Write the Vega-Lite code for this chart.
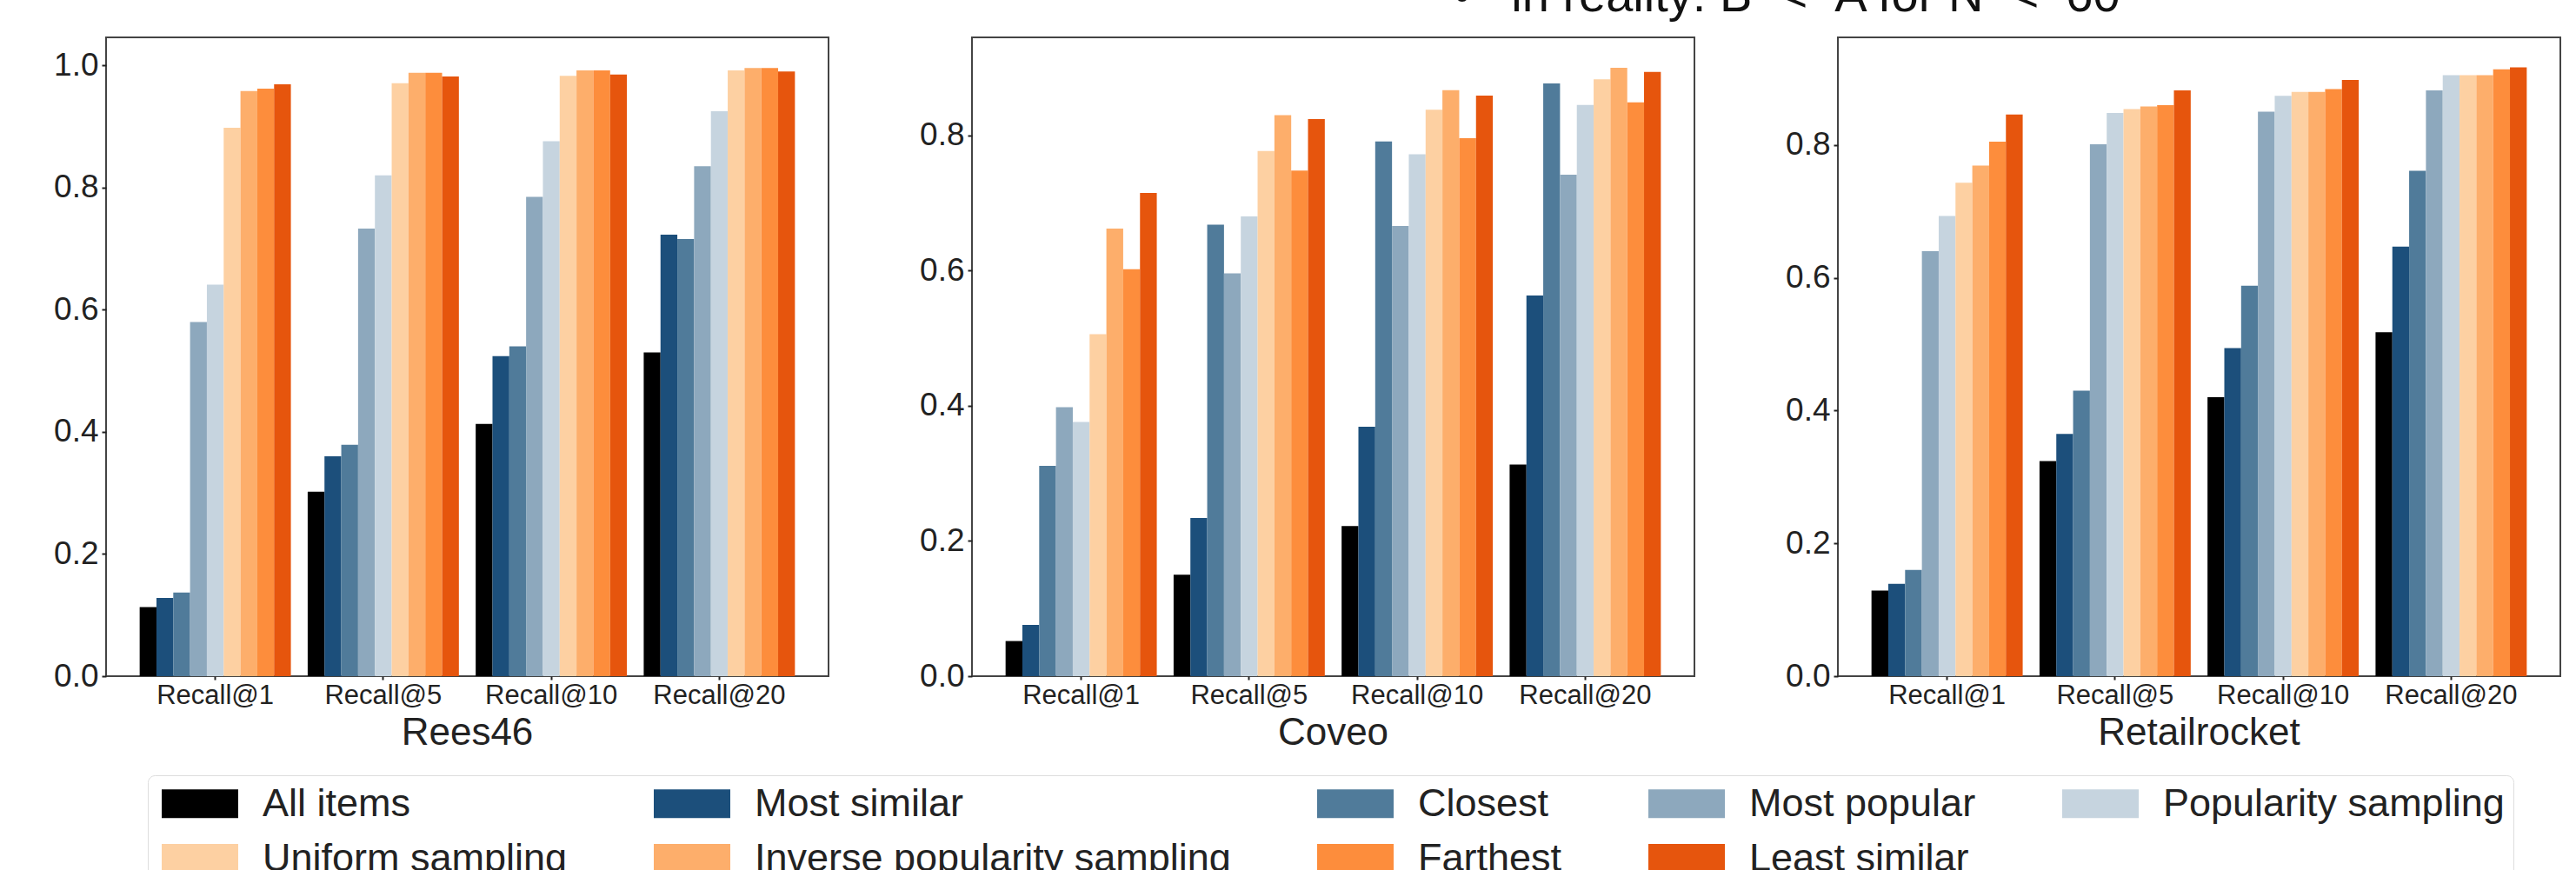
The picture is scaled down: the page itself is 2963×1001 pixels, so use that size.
{
  "$schema": "https://vega.github.io/schema/vega-lite/v6.json",
  "autosize": {"type": "pad"},
  "padding": {"left": 60, "top": -32, "right": 20, "bottom": 0},
  "background": "white",
  "title": {
    "text": "•\u00a0\u00a0 in reality: B\u00a0 < \u00a0A for N\u00a0 < \u00a060",
    "anchor": "start",
    "frame": "group",
    "dx": 1550,
    "baseline": "alphabetic",
    "offset": -27,
    "fontSize": 56,
    "fontWeight": "normal",
    "color": "#111"
  },
  "data": {
    "values": [
      {"dataset": "Rees46", "metric": "Recall@1", "method": "All items", "value": 0.113},
      {"dataset": "Rees46", "metric": "Recall@1", "method": "Most similar", "value": 0.128},
      {"dataset": "Rees46", "metric": "Recall@1", "method": "Closest", "value": 0.137},
      {"dataset": "Rees46", "metric": "Recall@1", "method": "Most popular", "value": 0.580},
      {"dataset": "Rees46", "metric": "Recall@1", "method": "Popularity sampling", "value": 0.641},
      {"dataset": "Rees46", "metric": "Recall@1", "method": "Uniform sampling", "value": 0.898},
      {"dataset": "Rees46", "metric": "Recall@1", "method": "Inverse popularity sampling", "value": 0.958},
      {"dataset": "Rees46", "metric": "Recall@1", "method": "Farthest", "value": 0.962},
      {"dataset": "Rees46", "metric": "Recall@1", "method": "Least similar", "value": 0.969},
      {"dataset": "Rees46", "metric": "Recall@5", "method": "All items", "value": 0.302},
      {"dataset": "Rees46", "metric": "Recall@5", "method": "Most similar", "value": 0.360},
      {"dataset": "Rees46", "metric": "Recall@5", "method": "Closest", "value": 0.379},
      {"dataset": "Rees46", "metric": "Recall@5", "method": "Most popular", "value": 0.733},
      {"dataset": "Rees46", "metric": "Recall@5", "method": "Popularity sampling", "value": 0.820},
      {"dataset": "Rees46", "metric": "Recall@5", "method": "Uniform sampling", "value": 0.971},
      {"dataset": "Rees46", "metric": "Recall@5", "method": "Inverse popularity sampling", "value": 0.988},
      {"dataset": "Rees46", "metric": "Recall@5", "method": "Farthest", "value": 0.988},
      {"dataset": "Rees46", "metric": "Recall@5", "method": "Least similar", "value": 0.982},
      {"dataset": "Rees46", "metric": "Recall@10", "method": "All items", "value": 0.413},
      {"dataset": "Rees46", "metric": "Recall@10", "method": "Most similar", "value": 0.524},
      {"dataset": "Rees46", "metric": "Recall@10", "method": "Closest", "value": 0.540},
      {"dataset": "Rees46", "metric": "Recall@10", "method": "Most popular", "value": 0.785},
      {"dataset": "Rees46", "metric": "Recall@10", "method": "Popularity sampling", "value": 0.876},
      {"dataset": "Rees46", "metric": "Recall@10", "method": "Uniform sampling", "value": 0.983},
      {"dataset": "Rees46", "metric": "Recall@10", "method": "Inverse popularity sampling", "value": 0.992},
      {"dataset": "Rees46", "metric": "Recall@10", "method": "Farthest", "value": 0.992},
      {"dataset": "Rees46", "metric": "Recall@10", "method": "Least similar", "value": 0.985},
      {"dataset": "Rees46", "metric": "Recall@20", "method": "All items", "value": 0.530},
      {"dataset": "Rees46", "metric": "Recall@20", "method": "Most similar", "value": 0.723},
      {"dataset": "Rees46", "metric": "Recall@20", "method": "Closest", "value": 0.716},
      {"dataset": "Rees46", "metric": "Recall@20", "method": "Most popular", "value": 0.835},
      {"dataset": "Rees46", "metric": "Recall@20", "method": "Popularity sampling", "value": 0.925},
      {"dataset": "Rees46", "metric": "Recall@20", "method": "Uniform sampling", "value": 0.992},
      {"dataset": "Rees46", "metric": "Recall@20", "method": "Inverse popularity sampling", "value": 0.996},
      {"dataset": "Rees46", "metric": "Recall@20", "method": "Farthest", "value": 0.996},
      {"dataset": "Rees46", "metric": "Recall@20", "method": "Least similar", "value": 0.990},

      {"dataset": "Coveo", "metric": "Recall@1", "method": "All items", "value": 0.052},
      {"dataset": "Coveo", "metric": "Recall@1", "method": "Most similar", "value": 0.076},
      {"dataset": "Coveo", "metric": "Recall@1", "method": "Closest", "value": 0.311},
      {"dataset": "Coveo", "metric": "Recall@1", "method": "Most popular", "value": 0.398},
      {"dataset": "Coveo", "metric": "Recall@1", "method": "Popularity sampling", "value": 0.376},
      {"dataset": "Coveo", "metric": "Recall@1", "method": "Uniform sampling", "value": 0.506},
      {"dataset": "Coveo", "metric": "Recall@1", "method": "Inverse popularity sampling", "value": 0.662},
      {"dataset": "Coveo", "metric": "Recall@1", "method": "Farthest", "value": 0.602},
      {"dataset": "Coveo", "metric": "Recall@1", "method": "Least similar", "value": 0.715},
      {"dataset": "Coveo", "metric": "Recall@5", "method": "All items", "value": 0.150},
      {"dataset": "Coveo", "metric": "Recall@5", "method": "Most similar", "value": 0.234},
      {"dataset": "Coveo", "metric": "Recall@5", "method": "Closest", "value": 0.668},
      {"dataset": "Coveo", "metric": "Recall@5", "method": "Most popular", "value": 0.596},
      {"dataset": "Coveo", "metric": "Recall@5", "method": "Popularity sampling", "value": 0.680},
      {"dataset": "Coveo", "metric": "Recall@5", "method": "Uniform sampling", "value": 0.777},
      {"dataset": "Coveo", "metric": "Recall@5", "method": "Inverse popularity sampling", "value": 0.830},
      {"dataset": "Coveo", "metric": "Recall@5", "method": "Farthest", "value": 0.748},
      {"dataset": "Coveo", "metric": "Recall@5", "method": "Least similar", "value": 0.824},
      {"dataset": "Coveo", "metric": "Recall@10", "method": "All items", "value": 0.222},
      {"dataset": "Coveo", "metric": "Recall@10", "method": "Most similar", "value": 0.369},
      {"dataset": "Coveo", "metric": "Recall@10", "method": "Closest", "value": 0.791},
      {"dataset": "Coveo", "metric": "Recall@10", "method": "Most popular", "value": 0.666},
      {"dataset": "Coveo", "metric": "Recall@10", "method": "Popularity sampling", "value": 0.772},
      {"dataset": "Coveo", "metric": "Recall@10", "method": "Uniform sampling", "value": 0.838},
      {"dataset": "Coveo", "metric": "Recall@10", "method": "Inverse popularity sampling", "value": 0.867},
      {"dataset": "Coveo", "metric": "Recall@10", "method": "Farthest", "value": 0.796},
      {"dataset": "Coveo", "metric": "Recall@10", "method": "Least similar", "value": 0.859},
      {"dataset": "Coveo", "metric": "Recall@20", "method": "All items", "value": 0.313},
      {"dataset": "Coveo", "metric": "Recall@20", "method": "Most similar", "value": 0.563},
      {"dataset": "Coveo", "metric": "Recall@20", "method": "Closest", "value": 0.877},
      {"dataset": "Coveo", "metric": "Recall@20", "method": "Most popular", "value": 0.742},
      {"dataset": "Coveo", "metric": "Recall@20", "method": "Popularity sampling", "value": 0.845},
      {"dataset": "Coveo", "metric": "Recall@20", "method": "Uniform sampling", "value": 0.883},
      {"dataset": "Coveo", "metric": "Recall@20", "method": "Inverse popularity sampling", "value": 0.900},
      {"dataset": "Coveo", "metric": "Recall@20", "method": "Farthest", "value": 0.849},
      {"dataset": "Coveo", "metric": "Recall@20", "method": "Least similar", "value": 0.894},

      {"dataset": "Retailrocket", "metric": "Recall@1", "method": "All items", "value": 0.129},
      {"dataset": "Retailrocket", "metric": "Recall@1", "method": "Most similar", "value": 0.139},
      {"dataset": "Retailrocket", "metric": "Recall@1", "method": "Closest", "value": 0.160},
      {"dataset": "Retailrocket", "metric": "Recall@1", "method": "Most popular", "value": 0.640},
      {"dataset": "Retailrocket", "metric": "Recall@1", "method": "Popularity sampling", "value": 0.693},
      {"dataset": "Retailrocket", "metric": "Recall@1", "method": "Uniform sampling", "value": 0.743},
      {"dataset": "Retailrocket", "metric": "Recall@1", "method": "Inverse popularity sampling", "value": 0.769},
      {"dataset": "Retailrocket", "metric": "Recall@1", "method": "Farthest", "value": 0.805},
      {"dataset": "Retailrocket", "metric": "Recall@1", "method": "Least similar", "value": 0.846},
      {"dataset": "Retailrocket", "metric": "Recall@5", "method": "All items", "value": 0.324},
      {"dataset": "Retailrocket", "metric": "Recall@5", "method": "Most similar", "value": 0.365},
      {"dataset": "Retailrocket", "metric": "Recall@5", "method": "Closest", "value": 0.430},
      {"dataset": "Retailrocket", "metric": "Recall@5", "method": "Most popular", "value": 0.801},
      {"dataset": "Retailrocket", "metric": "Recall@5", "method": "Popularity sampling", "value": 0.848},
      {"dataset": "Retailrocket", "metric": "Recall@5", "method": "Uniform sampling", "value": 0.854},
      {"dataset": "Retailrocket", "metric": "Recall@5", "method": "Inverse popularity sampling", "value": 0.858},
      {"dataset": "Retailrocket", "metric": "Recall@5", "method": "Farthest", "value": 0.860},
      {"dataset": "Retailrocket", "metric": "Recall@5", "method": "Least similar", "value": 0.882},
      {"dataset": "Retailrocket", "metric": "Recall@10", "method": "All items", "value": 0.420},
      {"dataset": "Retailrocket", "metric": "Recall@10", "method": "Most similar", "value": 0.494},
      {"dataset": "Retailrocket", "metric": "Recall@10", "method": "Closest", "value": 0.588},
      {"dataset": "Retailrocket", "metric": "Recall@10", "method": "Most popular", "value": 0.850},
      {"dataset": "Retailrocket", "metric": "Recall@10", "method": "Popularity sampling", "value": 0.874},
      {"dataset": "Retailrocket", "metric": "Recall@10", "method": "Uniform sampling", "value": 0.880},
      {"dataset": "Retailrocket", "metric": "Recall@10", "method": "Inverse popularity sampling", "value": 0.880},
      {"dataset": "Retailrocket", "metric": "Recall@10", "method": "Farthest", "value": 0.884},
      {"dataset": "Retailrocket", "metric": "Recall@10", "method": "Least similar", "value": 0.898},
      {"dataset": "Retailrocket", "metric": "Recall@20", "method": "All items", "value": 0.518},
      {"dataset": "Retailrocket", "metric": "Recall@20", "method": "Most similar", "value": 0.647},
      {"dataset": "Retailrocket", "metric": "Recall@20", "method": "Closest", "value": 0.761},
      {"dataset": "Retailrocket", "metric": "Recall@20", "method": "Most popular", "value": 0.882},
      {"dataset": "Retailrocket", "metric": "Recall@20", "method": "Popularity sampling", "value": 0.905},
      {"dataset": "Retailrocket", "metric": "Recall@20", "method": "Uniform sampling", "value": 0.905},
      {"dataset": "Retailrocket", "metric": "Recall@20", "method": "Inverse popularity sampling", "value": 0.905},
      {"dataset": "Retailrocket", "metric": "Recall@20", "method": "Farthest", "value": 0.914},
      {"dataset": "Retailrocket", "metric": "Recall@20", "method": "Least similar", "value": 0.917}
    ]
  },
  "bounds": "flush",
  "spacing": 165,
  "config": {
    "font": "Liberation Sans",
    "view": {"stroke": "#444444", "strokeWidth": 2},
    "axis": {"domain": false, "grid": false, "labelColor": "#222222", "tickColor": "#222222", "tickWidth": 2, "labelFont": "Liberation Sans"},
    "title": {"font": "Liberation Sans", "color": "#222222"},
    "legend": {"labelFont": "Liberation Sans"}
  },
  "hconcat": [
    {
      "width": 831, "height": 735,
      "title": {"text": "Rees46", "orient": "bottom", "fontSize": 44, "fontWeight": "normal", "offset": 7},
      "transform": [{"filter": "datum.dataset === 'Rees46'"}],
      "mark": {"type": "bar"},
      "encoding": {
        "x": {"field": "metric", "type": "nominal", "sort": ["Recall@1", "Recall@5", "Recall@10", "Recall@20"], "scale": {"paddingInner": 0.1, "paddingOuter": 0.2}, "axis": {"labelAngle": 0, "title": null, "tickSize": 4, "labelPadding": 3, "labelFontSize": 31}},
        "xOffset": {"field": "method", "type": "nominal", "sort": ["All items", "Most similar", "Closest", "Most popular", "Popularity sampling", "Uniform sampling", "Inverse popularity sampling", "Farthest", "Least similar"], "scale": {"paddingInner": 0, "paddingOuter": 0}},
        "y": {"field": "value", "type": "quantitative", "scale": {"domain": [0, 1.046], "nice": false}, "axis": {"values": [0, 0.2, 0.4, 0.6, 0.8, 1.0], "format": ".1f", "title": null, "tickSize": 5, "labelPadding": 4, "labelFontSize": 37}},
        "color": {
          "field": "method", "type": "nominal",
          "scale": {"domain": ["All items", "Most similar", "Closest", "Most popular", "Popularity sampling", "Uniform sampling", "Inverse popularity sampling", "Farthest", "Least similar"], "range": ["#000000", "#1c4f7b", "#507b9a", "#8da8bd", "#c6d4df", "#fdd0a2", "#fdae6b", "#fd8d3c", "#e6550d"]},
          "legend": {"orient": "none", "legendX": 48, "legendY": 849, "direction": "horizontal", "columns": 5, "title": null, "symbolType": "M-1,-1H4.333V1H-1Z", "symbolSize": 1089, "symbolStrokeWidth": 0, "symbolOpacity": 1, "labelFontSize": 45, "labelColor": "#222222", "labelOffset": 77, "labelLimit": 0, "columnPadding": 93, "rowPadding": 17, "padding": 10, "strokeColor": "#dddddd", "cornerRadius": 8, "gridAlign": "each"}
        }
      }
    },
    {
      "width": 831, "height": 735,
      "title": {"text": "Coveo", "orient": "bottom", "fontSize": 44, "fontWeight": "normal", "offset": 7},
      "transform": [{"filter": "datum.dataset === 'Coveo'"}],
      "mark": {"type": "bar"},
      "encoding": {
        "x": {"field": "metric", "type": "nominal", "sort": ["Recall@1", "Recall@5", "Recall@10", "Recall@20"], "scale": {"paddingInner": 0.1, "paddingOuter": 0.2}, "axis": {"labelAngle": 0, "title": null, "tickSize": 4, "labelPadding": 3, "labelFontSize": 31}},
        "xOffset": {"field": "method", "type": "nominal", "sort": ["All items", "Most similar", "Closest", "Most popular", "Popularity sampling", "Uniform sampling", "Inverse popularity sampling", "Farthest", "Least similar"], "scale": {"paddingInner": 0, "paddingOuter": 0}},
        "y": {"field": "value", "type": "quantitative", "scale": {"domain": [0, 0.945], "nice": false}, "axis": {"values": [0, 0.2, 0.4, 0.6, 0.8], "format": ".1f", "title": null, "tickSize": 5, "labelPadding": 4, "labelFontSize": 37}},
        "color": {"field": "method", "type": "nominal"}
      }
    },
    {
      "width": 831, "height": 735,
      "title": {"text": "Retailrocket", "orient": "bottom", "fontSize": 44, "fontWeight": "normal", "offset": 7},
      "transform": [{"filter": "datum.dataset === 'Retailrocket'"}],
      "mark": {"type": "bar"},
      "encoding": {
        "x": {"field": "metric", "type": "nominal", "sort": ["Recall@1", "Recall@5", "Recall@10", "Recall@20"], "scale": {"paddingInner": 0.1, "paddingOuter": 0.2}, "axis": {"labelAngle": 0, "title": null, "tickSize": 4, "labelPadding": 3, "labelFontSize": 31}},
        "xOffset": {"field": "method", "type": "nominal", "sort": ["All items", "Most similar", "Closest", "Most popular", "Popularity sampling", "Uniform sampling", "Inverse popularity sampling", "Farthest", "Least similar"], "scale": {"paddingInner": 0, "paddingOuter": 0}},
        "y": {"field": "value", "type": "quantitative", "scale": {"domain": [0, 0.962], "nice": false}, "axis": {"values": [0, 0.2, 0.4, 0.6, 0.8], "format": ".1f", "title": null, "tickSize": 5, "labelPadding": 4, "labelFontSize": 37}},
        "color": {"field": "method", "type": "nominal"}
      }
    }
  ],
  "resolve": {"scale": {"y": "independent", "x": "independent"}}
}
